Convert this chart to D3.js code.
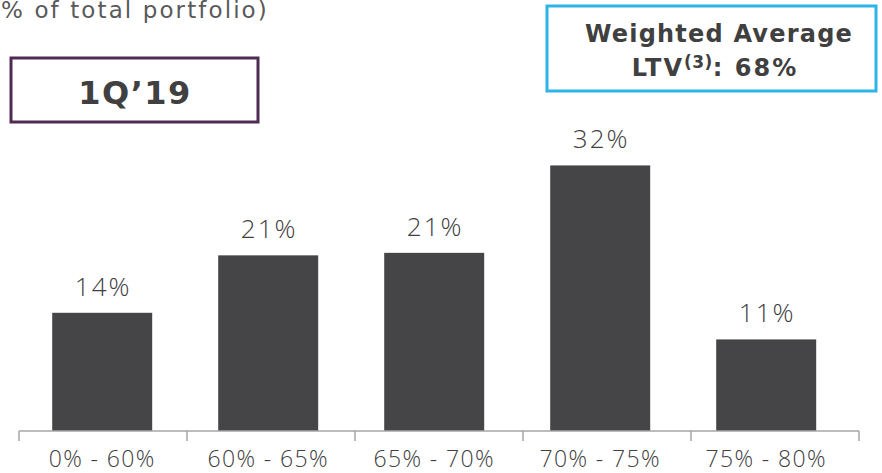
<!DOCTYPE html>
<meta charset="utf-8" />
<head>
  <style>
    body { margin: 0; background: #fff; }
    svg { display: block; }
    .lbl { fill: #404040; font-family: "Open Sans", "DejaVu Sans", sans-serif; font-weight: 300; font-size: 26px; letter-spacing: 2px; }
    .tick text { fill: #404040; font-family: "Open Sans", "DejaVu Sans", sans-serif; font-weight: 300; font-size: 23px; letter-spacing: 1.4px; }
    .box text { fill: #404040; font-family: "DejaVu Sans", Verdana, sans-serif; font-weight: bold; }
  </style>
  <script src="https://cdn.jsdelivr.net/npm/d3@7"></script>
</head>
<body>
<script>
  var categories = ["0% - 60%", "60% - 65%", "65% - 70%", "70% - 75%", "75% - 80%"],
    values = [14.2, 21.1, 21.4, 31.9, 11.0],
    valueLabels = ["14%", "21%", "21%", "32%", "11%"];

  var width = 882, height = 473,
    baseline = 431;

  var svg = d3.select("body").append("svg")
    .attr("width", width)
    .attr("height", height);

  // bars
  var x = d3.scaleBand()
    .domain(categories)
    .range([19, 849.4])
    .paddingInner(0.3976)
    .paddingOuter(0.2);

  // axis segments
  var xt = d3.scaleBand()
    .domain(categories)
    .range([19, 859]);

  var y = d3.scaleLinear()
    .domain([0, 40])
    .range([baseline, baseline - 333]);

  // subtitle, cut off at the left edge like in the slide
  svg.append("text")
    .attr("x", -10)
    .attr("y", 18)
    .style("fill", "#595959")
    .style("font-family", "'DejaVu Sans', Verdana, sans-serif")
    .style("font-size", "23px")
    .style("letter-spacing", "2.1px")
    .text("(% of total portfolio)");

  svg.append("g")
    .selectAll("rect")
    .data(values)
    .enter()
    .append("rect")
    .attr("x", function(d, i) { return x(categories[i]); })
    .attr("y", function(d) { return y(d); })
    .attr("width", x.bandwidth())
    .attr("height", function(d) { return baseline - y(d); })
    .attr("fill", "#454547");

  svg.append("g")
    .selectAll("text")
    .data(values)
    .enter()
    .append("text")
    .attr("class", "lbl")
    .attr("text-anchor", "middle")
    .attr("x", function(d, i) { return x(categories[i]) + x.bandwidth() / 2 + 1; })
    .attr("y", function(d) { return y(d) - 17; })
    .text(function(d, i) { return valueLabels[i]; });

  var axis = svg.append("g").attr("transform", "translate(0," + baseline + ")");
  axis.append("line")
    .attr("x1", xt.range()[0]).attr("x2", xt.range()[1])
    .attr("stroke", "#a6a6a6").attr("stroke-width", 1.5);
  axis.selectAll(".sep")
    .data(categories.concat([null]))
    .enter()
    .append("line")
    .attr("class", "sep")
    .attr("x1", function(d) { return d === null ? xt.range()[1] : xt(d); })
    .attr("x2", function(d) { return d === null ? xt.range()[1] : xt(d); })
    .attr("y1", 0).attr("y2", 10)
    .attr("stroke", "#a6a6a6").attr("stroke-width", 1.5);
  axis.selectAll(".tick")
    .data(categories)
    .enter()
    .append("g")
    .attr("class", "tick")
    .append("text")
    .attr("text-anchor", "middle")
    .attr("x", function(d) { return x(d) + x.bandwidth() / 2; })
    .attr("y", 36)
    .text(function(d) { return d; });

  // 1Q'19 box
  var qbox = svg.append("g").attr("class", "box");
  qbox.append("rect")
    .attr("x", 11).attr("y", 58).attr("width", 247).attr("height", 64)
    .attr("fill", "none").attr("stroke", "#4f2a52").attr("stroke-width", 3);
  qbox.append("text")
    .attr("x", 135).attr("y", 104)
    .attr("text-anchor", "middle")
    .style("font-size", "32px")
    .style("letter-spacing", "1.5px")
    .text("1Q’19");

  // weighted average box
  var wbox = svg.append("g").attr("class", "box");
  wbox.append("rect")
    .attr("x", 547).attr("y", 6).attr("width", 329).attr("height", 85)
    .attr("fill", "none").attr("stroke", "#2cb5e6").attr("stroke-width", 3);
  wbox.append("text")
    .attr("x", 719).attr("y", 42)
    .attr("text-anchor", "middle")
    .style("font-size", "24px")
    .style("letter-spacing", "1.2px")
    .text("Weighted Average");
  var t2 = wbox.append("text")
    .attr("x", 715).attr("y", 76)
    .attr("text-anchor", "middle")
    .style("font-size", "24px")
    .style("letter-spacing", "2px");
  t2.append("tspan").text("LTV");
  t2.append("tspan").attr("dy", -8).style("font-size", "17px").style("letter-spacing", "0.5px").text("(3)");
  t2.append("tspan").attr("dy", 8).text(": 68%");
</script>
</body>
